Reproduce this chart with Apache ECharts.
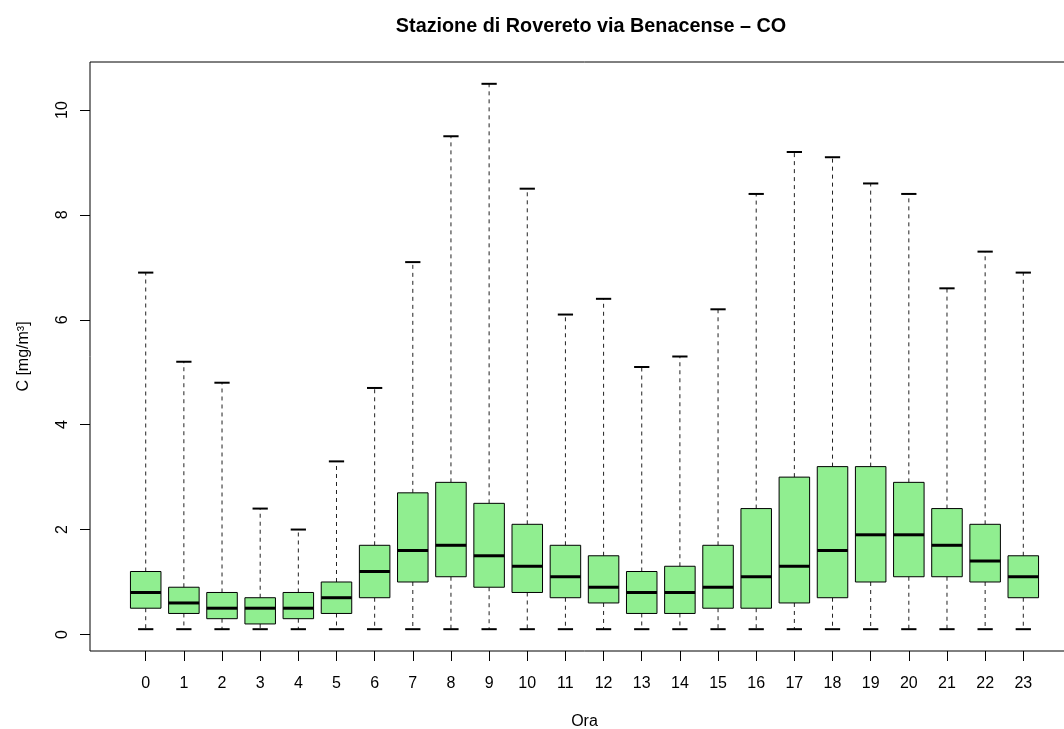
<!DOCTYPE html>
<html>
<head>
<meta charset="utf-8">
<script src="https://cdn.jsdelivr.net/npm/echarts@6/dist/echarts.min.js"></script>
<style>
  html, body { margin: 0; padding: 0; background: #fff; overflow: hidden; width: 1064px; height: 729px; }
  #chart { width: 1100px; height: 729px; }
</style>
</head>
<body>
<div id="chart"></div>
<script>
// ---- data ----
const hours   = [0,1,2,3,4,5,6,7,8,9,10,11,12,13,14,15,16,17,18,19,20,21,22,23];
const minVals = [0.1,0.1,0.1,0.1,0.1,0.1,0.1,0.1,0.1,0.1,0.1,0.1,0.1,0.1,0.1,0.1,0.1,0.1,0.1,0.1,0.1,0.1,0.1,0.1];
const q1Vals  = [0.5,0.4,0.3,0.2,0.3,0.4,0.7,1.0,1.1,0.9,0.8,0.7,0.6,0.4,0.4,0.5,0.5,0.6,0.7,1.0,1.1,1.1,1.0,0.7];
const medVals = [0.8,0.6,0.5,0.5,0.5,0.7,1.2,1.6,1.7,1.5,1.3,1.1,0.9,0.8,0.8,0.9,1.1,1.3,1.6,1.9,1.9,1.7,1.4,1.1];
const q3Vals  = [1.2,0.9,0.8,0.7,0.8,1.0,1.7,2.7,2.9,2.5,2.1,1.7,1.5,1.2,1.3,1.7,2.4,3.0,3.2,3.2,2.9,2.4,2.1,1.5];
const maxVals = [6.9,5.2,4.8,2.4,2.0,3.3,4.7,7.1,9.5,10.5,8.5,6.1,6.4,5.1,5.3,6.2,8.4,9.2,9.1,8.6,8.4,6.6,7.3,6.9];
const yTicks  = [0,2,4,6,8,10];

const titleText = 'Stazione di Rovereto via Benacense \u2013 CO';
const xName = 'Ora';
const yName = 'C [mg/m\u00b3]';

const BOX_WIDTH = 0.8;   // in category units
const CAP_WIDTH = 0.4;
const FONT = 'Liberation Sans, Arial, Helvetica, sans-serif';

const seriesData = hours.map((h, i) => [h, minVals[i], q1Vals[i], medVals[i], q3Vals[i], maxVals[i]]);

const chart = echarts.init(document.getElementById('chart'), null, { renderer: 'canvas' });

function renderItem(params, api) {
  const x = api.value(0);
  const pMin = api.coord([x, api.value(1)]);
  const pQ1  = api.coord([x, api.value(2)]);
  const pMed = api.coord([x, api.value(3)]);
  const pQ3  = api.coord([x, api.value(4)]);
  const pMax = api.coord([x, api.value(5)]);
  const half = api.size([BOX_WIDTH, 0])[0] / 2;
  const capHalf = api.size([CAP_WIDTH, 0])[0] / 2;
  const cx = pMed[0];
  const dashStyle = { stroke: '#222', lineWidth: 1, lineDash: [4, 4] };
  return {
    type: 'group',
    children: [
      { type: 'line', shape: { x1: cx, y1: pQ3[1], x2: cx, y2: pMax[1] }, style: dashStyle },
      { type: 'line', shape: { x1: cx, y1: pQ1[1], x2: cx, y2: pMin[1] }, style: dashStyle },
      { type: 'line', shape: { x1: cx - capHalf, y1: pMax[1], x2: cx + capHalf, y2: pMax[1] }, style: { stroke: '#000', lineWidth: 2 } },
      { type: 'line', shape: { x1: cx - capHalf, y1: pMin[1], x2: cx + capHalf, y2: pMin[1] }, style: { stroke: '#000', lineWidth: 2 } },
      { type: 'rect', shape: { x: cx - half, y: pQ3[1], width: 2 * half, height: pQ1[1] - pQ3[1] },
        style: { fill: '#90EE90', stroke: '#000', lineWidth: 1 } },
      { type: 'line', shape: { x1: cx - half, y1: pMed[1], x2: cx + half, y2: pMed[1] }, style: { stroke: '#000', lineWidth: 3 } }
    ]
  };
}

const option = {
  backgroundColor: '#fff',
  animation: false,
  title: {
    text: titleText,
    left: 586,
    top: 12,
    textAlign: 'center',
    textStyle: { fontFamily: FONT, fontSize: 19.8, fontWeight: 'bold', color: '#000' }
  },
  grid: {
    left: 90, top: 62, width: 989, height: 589,
    outerBoundsMode: 'none',
    containLabel: false,
    show: true, borderColor: '#000', borderWidth: 1, backgroundColor: 'transparent'
  },
  xAxis: {
    type: 'value',
    min: -1.46, max: 24.46,
    name: xName,
    nameLocation: 'middle',
    nameGap: 63,
    nameTextStyle: { fontFamily: FONT, fontSize: 16, color: '#000' },
    axisLine: { show: false, onZero: false },
    splitLine: { show: false },
    axisTick: { show: true, length: 10, lineStyle: { color: '#000' }, customValues: hours },
    axisLabel: { show: true, margin: 25, fontFamily: FONT, fontSize: 16, color: '#000', customValues: hours }
  },
  yAxis: {
    type: 'value',
    min: -0.316, max: 10.916,
    name: yName,
    nameLocation: 'middle',
    nameGap: 58,
    nameRotate: 90,
    nameTextStyle: { fontFamily: FONT, fontSize: 16, color: '#000' },
    axisLine: { show: false, onZero: false },
    splitLine: { show: false },
    axisTick: { show: true, length: 10, lineStyle: { color: '#000' }, customValues: yTicks },
    axisLabel: { show: true, margin: 19, rotate: 90, fontFamily: FONT, fontSize: 16, color: '#000', customValues: yTicks }
  },
  series: [{
    type: 'custom',
    renderItem: renderItem,
    encode: { x: 0, y: [1, 2, 3, 4, 5] },
    data: seriesData,
    clip: false
  }]
};
chart.setOption(option);
</script>
</body>
</html>
